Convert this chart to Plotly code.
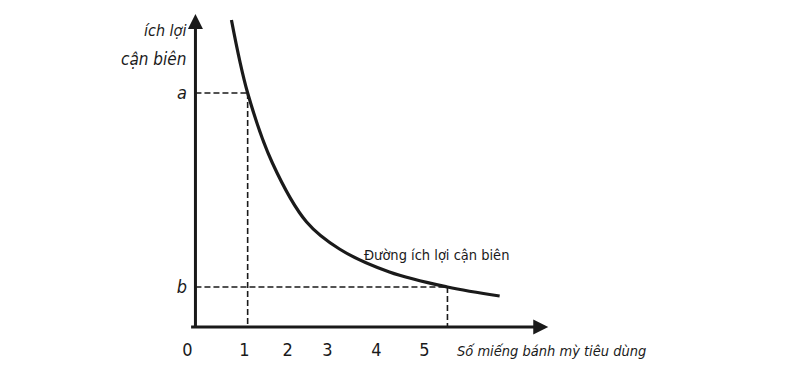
import plotly.graph_objects as go

# Marginal utility curve
curve_x = [0.71, 1.07, 1.62, 2.38, 3.11, 4.22, 5.51, 6.67]
curve_y = [30.7, 23.4, 16.4, 10.5, 7.8, 5.5, 4.0, 3.1]

# Reference points a (x=1) and b (x~5.5)
ref_x = [1.07, 5.51]
ref_y = [23.4, 4.0]
y_tick_text = ["a", "b"]

# x tick labels
x_tick_vals = [-0.27, 1.0, 1.96, 2.84, 3.93, 5.0]
x_tick_text = ["0", "1", "2", "3", "4", "5"]

FONT = "DejaVu Sans Condensed, Liberation Sans Narrow, Liberation Sans, Arial"
INK = "#1a1a1a"

fig = go.Figure()

# dashed guides
for xv, yv in zip(ref_x, ref_y):
    fig.add_trace(go.Scatter(x=[-0.09, xv], y=[yv, yv], mode="lines",
                             line=dict(color=INK, width=1.6, dash="6px,3px"),
                             showlegend=False, hoverinfo="skip"))
    fig.add_trace(go.Scatter(x=[xv, xv], y=[yv, 0], mode="lines",
                             line=dict(color=INK, width=1.6, dash="6px,3px"),
                             showlegend=False, hoverinfo="skip"))

fig.add_trace(go.Scatter(x=curve_x, y=curve_y, mode="lines",
                         line=dict(color=INK, width=3.2, shape="spline", smoothing=1.0),
                         showlegend=False))

# axes drawn as arrows
fig.add_annotation(x=7.75, y=0, ax=-0.22, ay=0, xref="x", yref="y", axref="x", ayref="y",
                   showarrow=True, arrowhead=2, arrowsize=1.0, arrowwidth=3, arrowcolor=INK, text="")
fig.add_annotation(x=-0.09, y=31.3, ax=-0.09, ay=-0.2, xref="x", yref="y", axref="x", ayref="y",
                   showarrow=True, arrowhead=2, arrowsize=1.0, arrowwidth=3, arrowcolor=INK, text="")

fig.add_annotation(x=-0.25, y=29.7, xref="x", yref="y", text="ích lợi",
                   showarrow=False, xanchor="right", yanchor="middle",
                   font=dict(family=FONT, size=16, color=INK, style="italic"))
fig.add_annotation(x=-0.25, y=26.8, xref="x", yref="y", text="cận biên",
                   showarrow=False, xanchor="right", yanchor="middle",
                   font=dict(family=FONT, size=17, color=INK, style="italic"))
fig.add_annotation(x=5.67, y=-0.06, xref="x", yref="paper", text="Số miếng bánh mỳ tiêu dùng",
                   showarrow=False, xanchor="left", yanchor="middle",
                   font=dict(family=FONT, size=14.5, color=INK, style="italic"))
fig.add_annotation(x=3.6, y=7.2, xref="x", yref="y", text="Đường ích lợi cận biên",
                   showarrow=False, xanchor="left", yanchor="middle",
                   font=dict(family=FONT, size=14.5, color=INK))

fig.update_layout(
    width=784, height=353,
    margin=dict(l=178, r=237, t=0, b=29, autoexpand=False),
    plot_bgcolor="white", paper_bgcolor="white",
    xaxis=dict(range=[-0.3, 7.9], showgrid=False, zeroline=False, showline=False,
               automargin=False,
               tickvals=x_tick_vals, ticktext=x_tick_text, ticks="",
               ticklabelstandoff=5,
               tickfont=dict(family=FONT, size=18, color=INK)),
    yaxis=dict(range=[-0.5, 31.9], showgrid=False, zeroline=False, showline=False,
               automargin=False,
               tickvals=ref_y, ticktext=y_tick_text, ticks="",
               ticklabelstandoff=-2,
               tickfont=dict(family=FONT, size=18, color=INK, style="italic")),
)

fig.write_html("out.html")
